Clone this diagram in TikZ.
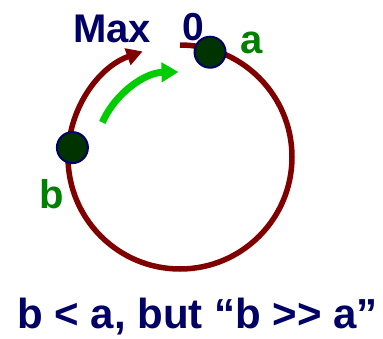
\documentclass[tikz,border=0pt]{standalone}
\usepackage{fontspec}
\setmainfont{Liberation Sans}
\usepackage{xcolor}
\usetikzlibrary{arrows.meta, positioning}
\definecolor{ringred}{RGB}{128,0,0}
\definecolor{txtnavy}{RGB}{0,0,102}
\definecolor{lblgreen}{RGB}{0,128,0}
\definecolor{ballgreen}{RGB}{0,51,0}
\definecolor{arrgreen}{RGB}{0,204,0}
\tikzset{
  ball/.style={circle, fill=ballgreen, draw=txtnavy, line width=2pt, minimum size=31pt, inner sep=0pt},
  bigtxt/.style={anchor=base, text=txtnavy, font=\fontsize{40}{44}\selectfont\bfseries},
  lbl/.style={anchor=base, text=lblgreen, font=\fontsize{40}{44}\selectfont\bfseries}
}

\begin{document}
\begin{tikzpicture}[x=1pt, y=1pt]
  \useasboundingbox (-180,-181) rectangle (203,157);
  \coordinate (ctr) at (0,0);

  % the ring, from 0 round to just past Max
  \draw[ringred, line width=5.5pt, -{Triangle[length=16pt, width=17pt]}]
    (90:112) arc[start angle=90, end angle=-250.5, radius=112];

  % the shorter way from b to a
  \draw[arrgreen, line width=7pt, -{Triangle[length=17pt, width=19pt]}]
    (156:85) arc[start angle=156, end angle=91, radius=85];

  \node[ball] (a) at (74:109) {};
  \node[ball] (b) at (175:108) {};

  \node[bigtxt] (max) at (-68,115) {Max};
  \node[bigtxt, font=\fontsize{39}{43}\selectfont\bfseries] (zero) at (13,117) {0};
  \node[lbl] (alab) at (72,104) {a};
  \node[lbl] (blab) at (-128,-51) {b};

  \node[bigtxt, font=\fontsize{42}{46}\selectfont\bfseries, inner sep=0pt] (note) at (17.5,-171) {b < a, but “b >{}> a”};
\end{tikzpicture}
\end{document}
